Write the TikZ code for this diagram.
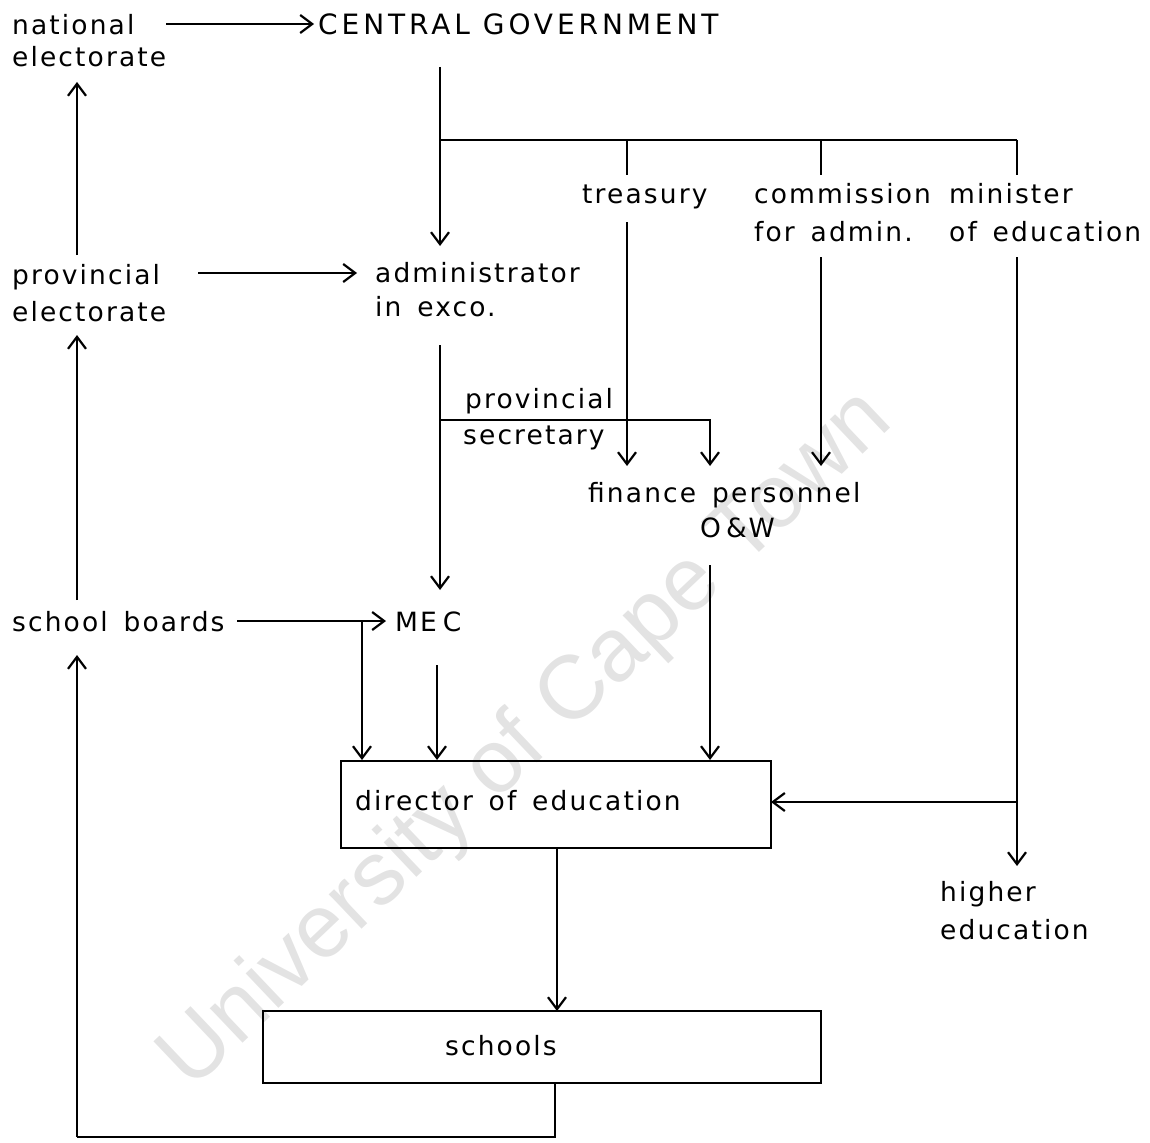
\documentclass[tikz,border=0pt]{standalone}
\usepackage{fontspec}
\setmainfont{DejaVu Sans}[LetterSpace=8,WordSpace=1.5]
\newfontfamily\capsfont{DejaVu Sans}[LetterSpace=14]
\newfontfamily\wmfont{Liberation Sans}
\usetikzlibrary{arrows.meta}
\begin{document}
\begin{tikzpicture}[x=1pt,y=-1pt,
  lbl/.style={inner sep=0pt,anchor=base west,font=\fontsize{26.5}{33}\selectfont},
  link/.style={line width=2.2pt},
  arr/.style={link,-{Straight Barb[length=12pt,width=18pt,line width=2.2pt]}},
  box/.style={draw,line width=2.2pt,inner sep=0pt}]
\useasboundingbox (0,0) rectangle (1150,1142);

% faint watermark across the chart
\node[rotate=43.5,font=\wmfont\fontsize{90}{96}\selectfont,text=black!11] (wm) at (527,741) {University of Cape Town};

% labels
\node[lbl] (nat1) at (12,35) {national};
\node[lbl] (nat2) at (12,67) {electorate};
\node[lbl,font=\capsfont\fontsize{28}{33}\selectfont] (cg) at (318,35) {CENTRAL GOVERNMENT};
\node[lbl] (tre) at (582,204) {treasury};
\node[lbl] (com1) at (754,204) {commission};
\node[lbl] (com2) at (754,241) {for admin.};
\node[lbl] (min1) at (949,204) {minister};
\node[lbl] (min2) at (949,241) {of education};
\node[lbl] (prov1) at (12,284) {provincial};
\node[lbl] (prov2) at (12,321) {electorate};
\node[lbl] (adm1) at (375,282) {administrator};
\node[lbl] (adm2) at (375,316) {in exco.};
\node[lbl] (ps1) at (465,408) {provincial};
\node[lbl] (ps2) at (463,444) {secretary};
\node[lbl] (fin) at (588,502) {finance};
\node[lbl] (per) at (712,502) {personnel};
\node[lbl] (ow) at (700,537) {O\kern5pt\&\kern2pt W};
\node[lbl] (sb) at (12,631) {school boards};
\node[lbl] (mec) at (395,631) {ME\kern6pt C};
\node[lbl] (hi1) at (940,901) {higher};
\node[lbl] (hi2) at (940,939) {education};

% boxes
\draw[box] (341,761) rectangle (771,848);
\node[lbl] (dir) at (355,810) {director of education};
\draw[box] (263,1011) rectangle (821,1083);
\node[lbl] (sch) at (445,1055) {schools};

% junction points
\coordinate (bus0) at (440,140);
\coordinate (psj) at (440,420);
\coordinate (perj) at (710,420);
\coordinate (minj) at (1017,802);
\coordinate (sbj) at (362,621);
\coordinate (dirR) at (771,802);
\coordinate (loopC) at (77,1137);
\coordinate (schB) at (555,1137);

% connectors
\draw[arr] (166,24) -- (314,24);
\draw[arr] (440,67) -- (440,246);
\draw[link] (bus0) -- (1017,140);
\draw[link] (627,140) -- (627,175);
\draw[link] (821,140) -- (821,175);
\draw[link] (1017,140) -- (1017,175);
\draw[arr] (627,222) -- (627,466);
\draw[arr] (821,257) -- (821,466);
\draw[arr] (1017,257) -- (1017,866);
\draw[arr] (minj) -- (dirR);
\draw[arr] (198,273) -- (357,273);
\draw[arr] (77,255) -- (77,82);
\draw[arr] (77,600) -- (77,335);
\draw[arr] (loopC) -- (77,655);
\draw[link] (555,1083) -- (schB) -- (loopC);
\draw[arr] (440,345) -- (440,590);
\draw[arr] (psj) -- (perj) -- (710,466);
\draw[arr] (710,565) -- (710,760);
\draw[arr] (237,621) -- (386,621);
\draw[arr] (sbj) -- (362,760);
\draw[arr] (437,665) -- (437,760);
\draw[arr] (557,848) -- (557,1011);
\end{tikzpicture}
\end{document}
